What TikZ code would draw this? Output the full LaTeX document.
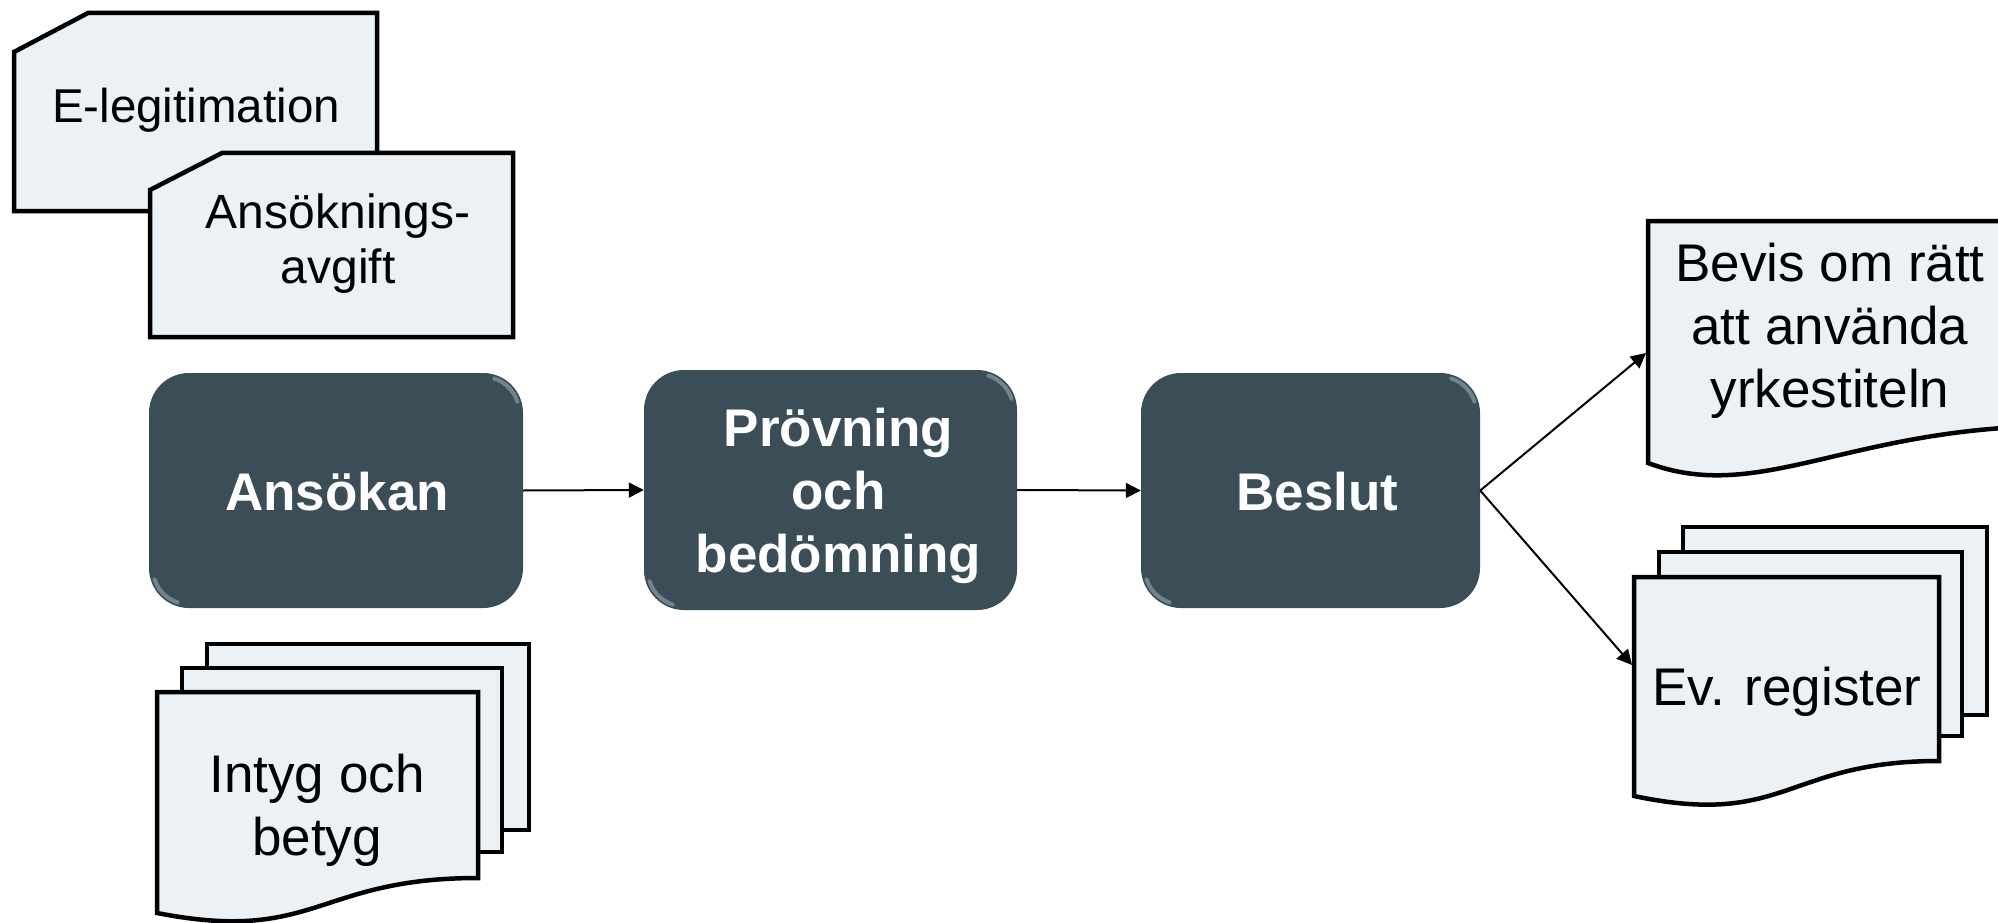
\documentclass[tikz,border=0pt]{standalone}
\usepackage{fontspec}
\setmainfont{Liberation Sans}
\usetikzlibrary{arrows.meta,calc}
\definecolor{boxc}{RGB}{59,77,87}
\definecolor{docc}{RGB}{235,241,244}
\definecolor{hilite}{RGB}{150,168,178}
\begin{document}
\begin{tikzpicture}[x=1pt,y=-1pt,
  procbox/.style={fill=boxc, draw=none, rounded corners=40pt, inner sep=0pt},
  proclabel/.style={text=white, font=\fontsize{53}{63}\selectfont\bfseries, align=center, inner sep=0pt},
  docshape/.style={fill=docc, draw=black, line width=4.5pt, line join=miter},
  doctext/.style={font=\fontsize{53}{63}\selectfont, align=center, anchor=base, inner sep=0pt},
  conn/.style={draw=black, line width=2pt, -{Triangle[length=15pt,width=15pt]}},
  sheen/.style={draw=hilite, line width=4pt, opacity=0.6, line cap=round}]
\useasboundingbox (0,0) rectangle (1998,923);
\clip (0,0) rectangle (1998,923);

% cards
\draw[docshape] (88,13) -- (377,13) -- (377,211) -- (14,211) -- (14,52) -- cycle;
\node[doctext, font=\fontsize{47.5}{55}\selectfont] (elegit) at (196,123) {E-legitimation};
\draw[docshape] (222,153) -- (513,153) -- (513,337) -- (150,337) -- (150,190) -- cycle;
\node[doctext, font=\fontsize{48}{55}\selectfont] (avgift) at (338,283) {Ansöknings-\\avgift};

% Intyg och betyg (multi document)
\draw[docshape] (207,644) rectangle (529,830);
\draw[docshape] (182,668) rectangle (502,852);
\draw[docshape] (157,692) -- (478,692) -- (478,878) .. controls (316,878) and (316,944) .. (157,913) -- cycle;
\node[doctext] (intyg) at (317,855) {Intyg och\\betyg};

% Bevis document
\draw[docshape] (1648,221) -- (2060,221) -- (2060,426) .. controls (1850,426) and (1760,505) .. (1648,463) -- cycle;
\node[doctext] (bevis) at (1830,407) {Bevis om rätt\\att använda\\yrkestiteln};

% Ev. register (multi document)
\draw[docshape] (1683,527) rectangle (1987,715);
\draw[docshape] (1659,552) rectangle (1962,736);
\draw[docshape] (1634,577) -- (1939,577) -- (1939,761) .. controls (1786,761) and (1786,828) .. (1634,796) -- cycle;
\node[doctext] (register) at (1787,705) {Ev. register};

% process boxes
\node[procbox, minimum width=374pt, minimum height=235pt] (ansokan) at (336,490.5) {};
\node[procbox, minimum width=373pt, minimum height=240pt] (provning) at (830.5,490) {};
\node[procbox, minimum width=339pt, minimum height=235pt] (beslut) at (1310.5,490.5) {};
\node[proclabel] (ansokanlbl) at ($(ansokan.center)+(1,1)$) {Ansökan};
\node[proclabel] (provninglbl) at ($(provning.center)+(8,6)$) {Prövning\\och\\bedömning};
\node[proclabel] (beslutlbl) at ($(beslut.center)+(7,1)$) {Beslut};

\foreach \b in {ansokan,provning,beslut}{
  \draw[sheen] ($(\b.north east)+(-40,40)$) ++(-72:36) arc[start angle=-72, end angle=-18, radius=36];
  \draw[sheen] ($(\b.south west)+(40,-40)$) ++(108:36) arc[start angle=108, end angle=162, radius=36];
}

% connectors
\coordinate (bevisin) at (1646,353);
\coordinate (regin) at (1632,665);
\draw[conn] (ansokan.east) -- (provning.west);
\draw[conn] (provning.east) -- (beslut.west);
\draw[conn] (beslut.east) -- (bevisin);
\draw[conn] (beslut.east) -- (regin);
\end{tikzpicture}
\end{document}
